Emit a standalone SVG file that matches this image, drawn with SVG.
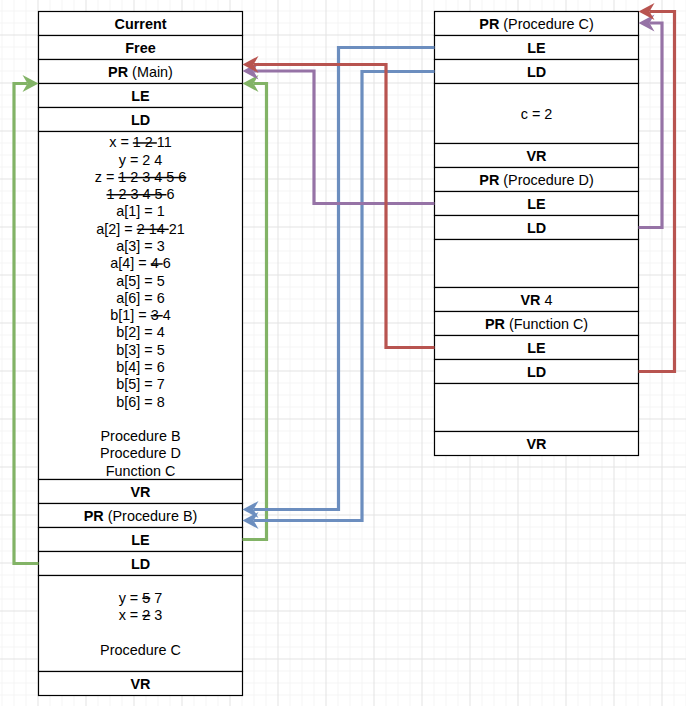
<svg xmlns="http://www.w3.org/2000/svg" width="686" height="706" viewBox="0 0 686 706">
<style>
.box{fill:#ffffff;stroke:#000000;stroke-width:1.2}
text{font-family:"Liberation Sans",Arial,sans-serif;font-size:14.4px;fill:#000000;text-anchor:middle}
.b{font-weight:bold}
.s{text-decoration:line-through}
.c{fill:none;stroke-width:3.2;stroke-linejoin:miter;stroke-linecap:butt}
.green{stroke:#82b366}
.blue{stroke:#6c8ebf}
.red{stroke:#b85450}
.purple{stroke:#9673a6}
</style>
<defs>
<pattern id="grid" patternUnits="userSpaceOnUse" x="37.5" y="34.5" width="48" height="48">
<path d="M12.5,0V48M24.5,0V48M36.5,0V48M0,12.5H48M0,24.5H48M0,36.5H48" stroke="#f4f4f4" stroke-width="1" fill="none"/>
<path d="M0.5,0V48M0,0.5H48" stroke="#e3e3e3" stroke-width="1" fill="none"/>
</pattern>
<marker id="aG" markerUnits="userSpaceOnUse" orient="auto" markerWidth="30" markerHeight="30" viewBox="-15 -15 30 30" refX="0" refY="0" overflow="visible"><path d="M11,0 L-5,-8.5 L0,0 L-5,8.5 Z" fill="#82b366"/></marker>
<marker id="aB" markerUnits="userSpaceOnUse" orient="auto" markerWidth="30" markerHeight="30" viewBox="-15 -15 30 30" refX="0" refY="0" overflow="visible"><path d="M11,0 L-5,-8.5 L0,0 L-5,8.5 Z" fill="#6c8ebf"/></marker>
<marker id="aR" markerUnits="userSpaceOnUse" orient="auto" markerWidth="30" markerHeight="30" viewBox="-15 -15 30 30" refX="0" refY="0" overflow="visible"><path d="M11,0 L-5,-8.5 L0,0 L-5,8.5 Z" fill="#b85450"/></marker>
<marker id="aP" markerUnits="userSpaceOnUse" orient="auto" markerWidth="30" markerHeight="30" viewBox="-15 -15 30 30" refX="0" refY="0" overflow="visible"><path d="M11,0 L-5,-8.5 L0,0 L-5,8.5 Z" fill="#9673a6"/></marker>
</defs>
<rect x="0" y="0" width="686" height="706" fill="#ffffff"/>
<rect x="0" y="0" width="686" height="706" fill="url(#grid)"/>

<g id="left-stack">
<g id="l-current"><rect class="box" x="38.5" y="11.5" width="204" height="24"/><text x="140.5" y="28.5" class="b">Current</text></g>
<g id="l-free"><rect class="box" x="38.5" y="35.5" width="204" height="24"/><text x="140.5" y="52.5" class="b">Free</text></g>
<g id="l-pr-main"><rect class="box" x="38.5" y="59.5" width="204" height="24"/><text x="140.5" y="76.5"><tspan class="b">PR</tspan> (Main)</text></g>
<g id="l-le-main"><rect class="box" x="38.5" y="83.5" width="204" height="24"/><text x="140.5" y="100.5" class="b">LE</text></g>
<g id="l-ld-main"><rect class="box" x="38.5" y="107.5" width="204" height="24"/><text x="140.5" y="124.5" class="b">LD</text></g>
<g id="l-vars-main"><rect class="box" x="38.5" y="131.5" width="204" height="348"/>
<text x="140.5" y="147.3">x = <tspan class="s">1 2 </tspan>11</text>
<text x="140.5" y="164.6">y = 2 4</text>
<text x="140.5" y="181.9">z = <tspan class="s">1 2 3 4 5 6</tspan></text>
<text x="140.5" y="199.1"><tspan class="s">1 2 3 4 5 </tspan>6</text>
<text x="140.5" y="216.4">a[1] = 1</text>
<text x="140.5" y="233.7">a[2] = <tspan class="s">2 14 </tspan>21</text>
<text x="140.5" y="251.0">a[3] = 3</text>
<text x="140.5" y="268.3">a[4] = <tspan class="s">4 </tspan>6</text>
<text x="140.5" y="285.5">a[5] = 5</text>
<text x="140.5" y="302.8">a[6] = 6</text>
<text x="140.5" y="320.1">b[1] = <tspan class="s">3 </tspan>4</text>
<text x="140.5" y="337.4">b[2] = 4</text>
<text x="140.5" y="354.7">b[3] = 5</text>
<text x="140.5" y="371.9">b[4] = 6</text>
<text x="140.5" y="389.2">b[5] = 7</text>
<text x="140.5" y="406.5">b[6] = 8</text>
<text x="140.5" y="441.1">Procedure B</text>
<text x="140.5" y="458.3">Procedure D</text>
<text x="140.5" y="475.6">Function C</text>
</g>
<g id="l-vr-main"><rect class="box" x="38.5" y="479.5" width="204" height="24"/><text x="140.5" y="496.5" class="b">VR</text></g>
<g id="l-pr-b"><rect class="box" x="38.5" y="503.5" width="204" height="24"/><text x="140.5" y="520.5"><tspan class="b">PR</tspan> (Procedure B)</text></g>
<g id="l-le-b"><rect class="box" x="38.5" y="527.5" width="204" height="24"/><text x="140.5" y="544.5" class="b">LE</text></g>
<g id="l-ld-b"><rect class="box" x="38.5" y="551.5" width="204" height="24"/><text x="140.5" y="568.5" class="b">LD</text></g>
<g id="l-vars-b"><rect class="box" x="38.5" y="575.5" width="204" height="96"/>
<text x="140.5" y="602.7">y = <tspan class="s">5</tspan> 7</text>
<text x="140.5" y="620.0">x = <tspan class="s">2</tspan> 3</text>
<text x="140.5" y="654.5">Procedure C</text>
</g>
<g id="l-vr-b"><rect class="box" x="38.5" y="671.5" width="204" height="24"/><text x="140.5" y="688.5" class="b">VR</text></g>
</g>

<g id="right-stack">
<g id="r-pr-c"><rect class="box" x="434.5" y="11.5" width="204" height="24"/><text x="536.5" y="28.5"><tspan class="b">PR</tspan> (Procedure C)</text></g>
<g id="r-le-c"><rect class="box" x="434.5" y="35.5" width="204" height="24"/><text x="536.5" y="52.5" class="b">LE</text></g>
<g id="r-ld-c"><rect class="box" x="434.5" y="59.5" width="204" height="24"/><text x="536.5" y="76.5" class="b">LD</text></g>
<g id="r-vars-c"><rect class="box" x="434.5" y="83.5" width="204" height="60"/><text x="536.5" y="118.5">c = 2</text></g>
<g id="r-vr-c"><rect class="box" x="434.5" y="143.5" width="204" height="24"/><text x="536.5" y="160.5" class="b">VR</text></g>
<g id="r-pr-d"><rect class="box" x="434.5" y="167.5" width="204" height="24"/><text x="536.5" y="184.5"><tspan class="b">PR</tspan> (Procedure D)</text></g>
<g id="r-le-d"><rect class="box" x="434.5" y="191.5" width="204" height="24"/><text x="536.5" y="208.5" class="b">LE</text></g>
<g id="r-ld-d"><rect class="box" x="434.5" y="215.5" width="204" height="24"/><text x="536.5" y="232.5" class="b">LD</text></g>
<g id="r-vars-d"><rect class="box" x="434.5" y="239.5" width="204" height="48"/></g>
<g id="r-vr-d"><rect class="box" x="434.5" y="287.5" width="204" height="24"/><text x="536.5" y="304.5"><tspan class="b">VR</tspan> 4</text></g>
<g id="r-pr-f"><rect class="box" x="434.5" y="311.5" width="204" height="24"/><text x="536.5" y="328.5"><tspan class="b">PR</tspan> (Function C)</text></g>
<g id="r-le-f"><rect class="box" x="434.5" y="335.5" width="204" height="24"/><text x="536.5" y="352.5" class="b">LE</text></g>
<g id="r-ld-f"><rect class="box" x="434.5" y="359.5" width="204" height="24"/><text x="536.5" y="376.5" class="b">LD</text></g>
<g id="r-vars-f"><rect class="box" x="434.5" y="383.5" width="204" height="48"/></g>
<g id="r-vr-f"><rect class="box" x="434.5" y="431.5" width="204" height="24"/><text x="536.5" y="448.5" class="b">VR</text></g>
</g>

<g id="connectors">
<path class="c green" d="M38.5,563.5 H14 V83.5 H27.5" marker-end="url(#aG)"/>
<path class="c green" d="M242.5,539.5 H266.5 V83.5 H253.5" marker-end="url(#aG)"/>
<path class="c blue" d="M434.5,47.5 H338.5 V509.5 H253.5" marker-end="url(#aB)"/>
<path class="c blue" d="M434.5,71.5 H362 V520.5 H253.5" marker-end="url(#aB)"/>
<path class="c purple" d="M434.5,203.5 H314 V71 H253.5" marker-end="url(#aP)"/>
<path class="c red" d="M434.5,347.5 H386 V64.5 H253.5" marker-end="url(#aR)"/>
<path class="c purple" d="M638.5,227.5 H662 V23 H649.5" marker-end="url(#aP)"/>
<path class="c red" d="M638.5,371.5 H674.5 V11.5 H649.5" marker-end="url(#aR)"/>
</g>
</svg>
